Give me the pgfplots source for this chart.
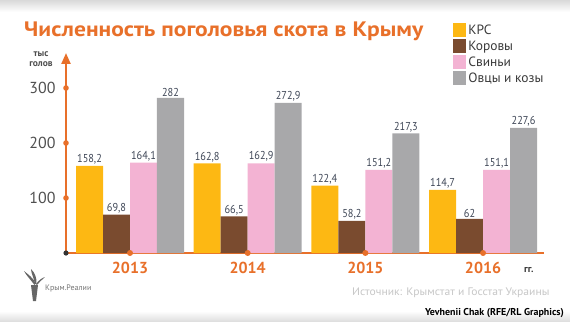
\documentclass[border=0pt]{standalone}
\usepackage{pgfplots}
\pgfplotsset{compat=1.18}
\usepackage{fontspec}
\setmainfont{PT Sans}
\newfontfamily\valfont[FakeStretch=0.9]{PT Sans}
\newfontfamily\titlefont[FakeStretch=1.125]{PT Sans}
\newfontfamily\srcfont[FakeStretch=1.06]{PT Sans}
\usetikzlibrary{arrows.meta}
\definecolor{orangeC}{HTML}{E8702A}
\definecolor{krc}{HTML}{FDB813}
\definecolor{cow}{HTML}{7A4B2F}
\definecolor{pig}{HTML}{F3B3D3}
\definecolor{sheep}{HTML}{A8A8AA}
\definecolor{labelC}{HTML}{3E4656}
\definecolor{tickgray}{HTML}{4F4F4F}
\definecolor{leggray}{HTML}{3A3A3A}
\begin{document}
\begin{tikzpicture}[x=1bp,y=1bp]
\begin{axis}[
  anchor=south west,
  scale only axis, width=478bp, height=200bp,
  xmin=-0.544, xmax=3.518, ymin=0, ymax=363.6,
  axis x line=bottom, axis y line=left,
  axis line style={draw=orangeC, line width=2.2bp},
  x axis line style={-},
  y axis line style={-{Triangle[width=9bp,length=11bp]}},
  xtick={0,1,2,3}, xticklabels={2013,2014,2015,2016},
  ytick={100,200,300},
  major tick length=0pt,
  xticklabel style={font=\bfseries\fontsize{16}{16}\selectfont, text=orangeC, yshift=-5.5bp},
  yticklabel style={font=\fontsize{16}{16}\selectfont, text=tickgray, xshift=-7bp},
  /pgf/number format/assume math mode=true,
  /pgf/number format/use comma, /pgf/number format/fixed, /pgf/number format/precision=1,
  ybar, bar width=0.2295,
  nodes near coords,
  every node near coord/.append style={font=\valfont\fontsize{11.5}{11.5}\selectfont, text=labelC, inner sep=1.5bp},
  clip=false,
  legend style={draw=none, fill=none, at={(axis description cs:0.8096,1.15)}, anchor=north west,
    inner sep=0pt, row sep=2bp, font=\fontsize{13.5}{13.5}\selectfont, text=leggray,
    nodes={inner sep=0pt, anchor=base west, text depth=0pt}},
  legend cell align=left,
  legend image code/.code={\fill[#1] (0bp,-2.2bp) rectangle (13.3bp,11.8bp);},
]
\addplot[fill=krc, draw=none, bar shift=-0.344] coordinates {(0,158.2) (1,162.8) (2,122.4) (3,114.7)};
\addplot[fill=cow, draw=none, bar shift=-0.1147] coordinates {(0,69.8) (1,66.5) (2,58.2) (3,62)};
\addplot[fill=pig, draw=none, bar shift=0.1147] coordinates {(0,164.1) (1,162.9) (2,151.2) (3,151.1)};
\addplot[fill=sheep, draw=none, bar shift=0.344] coordinates {(0,282) (1,272.9) (2,217.3) (3,227.6)};
\legend{\hspace{2bp}КРС,\hspace{2bp}Коровы,\hspace{2bp}Свиньи,\hspace{2bp}Овцы и козы}
\pgfplotsinvokeforeach{100,200,300}{\fill[orangeC] (axis cs:-0.544,#1) circle (2.8bp);}
\pgfplotsinvokeforeach{0,1,2,3}{\fill[orangeC] (axis cs:#1,0) circle (3bp);}
\fill[black!80] (axis cs:-0.544,0) circle (2.6bp);
\end{axis}
\begin{scope}[shift={(-66,-68)}]
\shade[top color=gray!30, bottom color=white] (0,309) rectangle (570,321);
\shade[top color=white, bottom color=gray!25] (0,0) rectangle (570,10);
\node[anchor=base west, inner sep=0pt, text=orangeC, font=\titlefont\bfseries\fontsize{21}{21}\selectfont] at (24,285) {Численность поголовья скота в Крыму};
\node[inner sep=0pt, text=tickgray, font=\bfseries\fontsize{9.5}{9.5}\selectfont] at (41,266.5) {тыс};
\node[inner sep=0pt, text=tickgray, font=\bfseries\fontsize{9.5}{9.5}\selectfont] at (41,256.5) {голов};
\node[anchor=west, inner sep=0pt, text=leggray, font=\bfseries\fontsize{10}{10}\selectfont] at (524,51) {гг.};
\node[anchor=west, inner sep=0pt, text=gray!45, font=\srcfont\fontsize{11}{11}\selectfont] at (352,28) {Источник: Крымстат и Госстат Украины};
\node[anchor=east, inner sep=0pt, text=black, font=\bfseries\fontsize{10}{10}\selectfont] at (564,8) {Yevhenii Chak (RFE/RL Graphics)};
\node[anchor=west, inner sep=0pt, text=gray!90!black, font=\fontsize{8}{8}\selectfont] at (45,33) {Крым.Реалии};
\fill[gray!80!black] (33,20) -- (36,20) -- (38,36) -- (31,36) -- cycle;
\fill[gray!80!black] (34.5,36) .. controls (30,42) and (26,46) .. (24,50) .. controls (29,46) and (33,43) .. (35.5,38) -- cycle;
\fill[gray!80!black] (35,37) .. controls (34,43) and (31,48) .. (31,52) .. controls (35,48) and (37,43) .. (36.5,37) -- cycle;
\fill[gray!80!black] (36,37) .. controls (39,41) and (42,43) .. (45,44) .. controls (42,41) and (39,39) .. (37,36) -- cycle;
\end{scope}
\pgfresetboundingbox
\path[use as bounding box] (-66,-68) rectangle (504,253);
\end{tikzpicture}
\end{document}
